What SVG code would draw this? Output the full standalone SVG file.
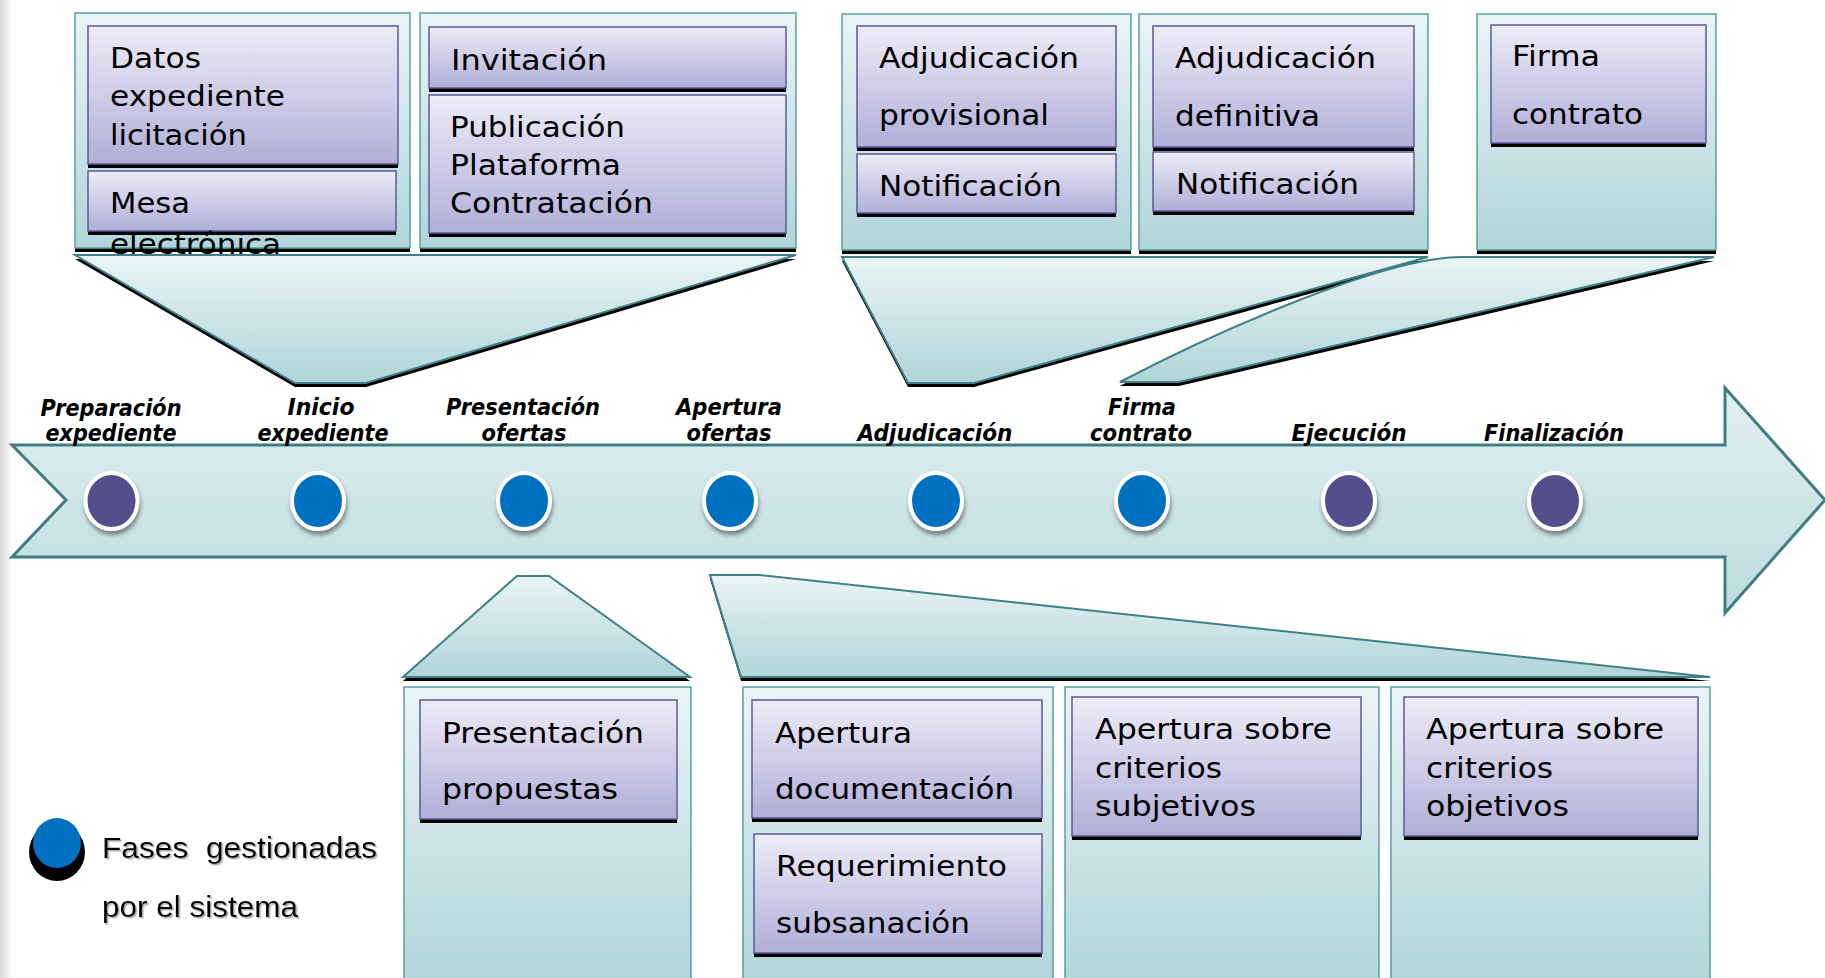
<svg xmlns="http://www.w3.org/2000/svg" width="1825" height="978" viewBox="0 0 1825 978">
<defs>
<linearGradient id="gPanel" x1="0" y1="0" x2="0" y2="1"><stop offset="0" stop-color="#EAF4F6"/><stop offset="1" stop-color="#B0D5D9"/></linearGradient>
<linearGradient id="gBand" x1="0" y1="0" x2="0" y2="1"><stop offset="0" stop-color="#E2F0F2"/><stop offset="1" stop-color="#BDDCDF"/></linearGradient>
<linearGradient id="gBox" x1="0" y1="0" x2="0" y2="1"><stop offset="0" stop-color="#EDECF7"/><stop offset="1" stop-color="#B1AED8"/></linearGradient>
<linearGradient id="gEdge" x1="0" y1="0" x2="1" y2="0"><stop offset="0" stop-color="#D6D6D6"/><stop offset="1" stop-color="#FFFFFF"/></linearGradient>
<filter id="dot" x="-50%" y="-50%" width="200%" height="200%"><feDropShadow dx="1" dy="4" stdDeviation="2" flood-color="#333" flood-opacity="0.55"/></filter>
<filter id="tsh" x="-5%" y="-20%" width="110%" height="140%"><feDropShadow dx="1.5" dy="1.5" stdDeviation="0.6" flood-color="#999" flood-opacity="0.8"/></filter>
<style>
.panel{fill:url(#gPanel);stroke:#5A9EA2;stroke-width:1.5}
.fun{fill:url(#gPanel);stroke:#3F8186;stroke-width:2}
.box{fill:url(#gBox);stroke:#5C5A98;stroke-width:1.5}
.sh{fill:#000}
.t{font-family:"DejaVu Sans",Verdana,sans-serif;font-size:28px;fill:#000}
.lbl{font-family:"DejaVu Sans",Verdana,sans-serif;font-size:23px;font-weight:bold;font-style:italic;fill:#000;text-anchor:middle}
.leg{font-family:"Liberation Sans",Arial,sans-serif;font-size:30px;fill:#000}
.dotB{fill:#0070C0;stroke:#fff;stroke-width:4}
.dotP{fill:#524F8A;stroke:#fff;stroke-width:4}
</style>
</defs>
<rect x="0" y="0" width="1825" height="978" fill="#fff"/>
<rect x="0" y="0" width="12" height="978" fill="url(#gEdge)"/>

<g id="band">
<polygon points="12,445 1725,445 1725,388 1825,500 1725,613 1725,557 12,557 66,500" fill="url(#gBand)" stroke="#3F7D82" stroke-width="3" stroke-linejoin="miter"/>
</g>

<g id="phases">
<ellipse class="dotP" cx="111.5" cy="501" rx="26" ry="28" filter="url(#dot)"/>
<ellipse class="dotB" cx="318" cy="501" rx="26" ry="28" filter="url(#dot)"/>
<ellipse class="dotB" cx="524" cy="501" rx="26" ry="28" filter="url(#dot)"/>
<ellipse class="dotB" cx="730" cy="501" rx="26" ry="28" filter="url(#dot)"/>
<ellipse class="dotB" cx="936" cy="501" rx="26" ry="28" filter="url(#dot)"/>
<ellipse class="dotB" cx="1142" cy="501" rx="26" ry="28" filter="url(#dot)"/>
<ellipse class="dotP" cx="1349" cy="501" rx="26" ry="28" filter="url(#dot)"/>
<ellipse class="dotP" cx="1555" cy="501" rx="26" ry="28" filter="url(#dot)"/>
<text class="lbl" x="111" y="416" textLength="141" lengthAdjust="spacingAndGlyphs">Preparación</text>
<text class="lbl" x="111" y="441" textLength="131" lengthAdjust="spacingAndGlyphs">expediente</text>
<text class="lbl" x="321" y="415" textLength="67" lengthAdjust="spacingAndGlyphs">Inicio</text>
<text class="lbl" x="323" y="441" textLength="131" lengthAdjust="spacingAndGlyphs">expediente</text>
<text class="lbl" x="523" y="415" textLength="154" lengthAdjust="spacingAndGlyphs">Presentación</text>
<text class="lbl" x="524" y="441" textLength="85" lengthAdjust="spacingAndGlyphs">ofertas</text>
<text class="lbl" x="729" y="415" textLength="106" lengthAdjust="spacingAndGlyphs">Apertura</text>
<text class="lbl" x="729" y="441" textLength="85" lengthAdjust="spacingAndGlyphs">ofertas</text>
<text class="lbl" x="935" y="441" textLength="155" lengthAdjust="spacingAndGlyphs">Adjudicación</text>
<text class="lbl" x="1142" y="415" textLength="68" lengthAdjust="spacingAndGlyphs">Firma</text>
<text class="lbl" x="1141" y="441" textLength="102" lengthAdjust="spacingAndGlyphs">contrato</text>
<text class="lbl" x="1349" y="441" textLength="115" lengthAdjust="spacingAndGlyphs">Ejecución</text>
<text class="lbl" x="1554" y="441" textLength="140" lengthAdjust="spacingAndGlyphs">Finalización</text>
</g>

<g id="connectors">
<polygon class="sh" points="75,259 796,259 366,387 295,387"/>
<polygon class="fun" points="75,255 796,255 366,383 295,383"/>
<polygon class="sh" points="842,261 1428,261 974,387 908,387"/>
<polygon class="fun" points="842,257 1428,257 974,383 908,383"/>
<path class="sh" d="M1120,386 C1200,344 1380,261 1461,261 L1714,261 L1179,386 Z"/>
<path class="fun" d="M1120,382 C1200,340 1380,257 1461,257 L1714,257 L1179,382 Z"/>
<polygon class="sh" points="403,681 517,580 549,580 690,681"/>
<polygon class="fun" points="403,677 517,576 549,576 690,677"/>
<polygon class="sh" points="710,579 760,579 1710,681 741,681"/>
<polygon class="fun" points="710,575 760,575 1710,677 741,677"/>
</g>

<g id="panel-inicio">
<rect class="sh" x="75" y="17" width="335" height="235"/>
<rect class="panel" x="75" y="13" width="335" height="235"/>
<rect class="sh" x="88" y="30" width="310" height="138"/>
<rect class="box" x="88" y="26" width="310" height="138"/>
<rect class="sh" x="88" y="175" width="308" height="60"/>
<rect class="box" x="88" y="171" width="308" height="60"/>
<text class="t" x="110" y="68" textLength="91" lengthAdjust="spacingAndGlyphs">Datos</text>
<text class="t" x="110" y="106" textLength="175" lengthAdjust="spacingAndGlyphs">expediente</text>
<text class="t" x="110" y="145" textLength="137" lengthAdjust="spacingAndGlyphs">licitación</text>
<text class="t" x="110" y="213" textLength="80" lengthAdjust="spacingAndGlyphs">Mesa</text>
<text class="t" x="110" y="254" textLength="171" lengthAdjust="spacingAndGlyphs">electrónica</text>
</g>

<g id="panel-invitacion">
<rect class="sh" x="420" y="17" width="376" height="235"/>
<rect class="panel" x="420" y="13" width="376" height="235"/>
<rect class="sh" x="429" y="31" width="357" height="61"/>
<rect class="box" x="429" y="27" width="357" height="61"/>
<rect class="sh" x="429" y="99" width="357" height="138"/>
<rect class="box" x="429" y="95" width="357" height="138"/>
<text class="t" x="451" y="70" textLength="156" lengthAdjust="spacingAndGlyphs">Invitación</text>
<text class="t" x="450" y="137" textLength="175" lengthAdjust="spacingAndGlyphs">Publicación</text>
<text class="t" x="450" y="175" textLength="171" lengthAdjust="spacingAndGlyphs">Plataforma</text>
<text class="t" x="450" y="213" textLength="203" lengthAdjust="spacingAndGlyphs">Contratación</text>
</g>

<g id="panel-adj-provisional">
<rect class="sh" x="842" y="18" width="289" height="236"/>
<rect class="panel" x="842" y="14" width="289" height="236"/>
<rect class="sh" x="857" y="30" width="259" height="121"/>
<rect class="box" x="857" y="26" width="259" height="121"/>
<rect class="sh" x="857" y="158" width="259" height="59"/>
<rect class="box" x="857" y="154" width="259" height="59"/>
<text class="t" x="879" y="68" textLength="200" lengthAdjust="spacingAndGlyphs">Adjudicación</text>
<text class="t" x="879" y="125" textLength="170" lengthAdjust="spacingAndGlyphs">provisional</text>
<text class="t" x="879" y="196" textLength="183" lengthAdjust="spacingAndGlyphs">Notificación</text>
</g>

<g id="panel-adj-definitiva">
<rect class="sh" x="1139" y="18" width="289" height="236"/>
<rect class="panel" x="1139" y="14" width="289" height="236"/>
<rect class="sh" x="1153" y="30" width="261" height="121"/>
<rect class="box" x="1153" y="26" width="261" height="121"/>
<rect class="sh" x="1153" y="156" width="261" height="59"/>
<rect class="box" x="1153" y="152" width="261" height="59"/>
<text class="t" x="1175" y="68" textLength="201" lengthAdjust="spacingAndGlyphs">Adjudicación</text>
<text class="t" x="1175" y="126" textLength="145" lengthAdjust="spacingAndGlyphs">definitiva</text>
<text class="t" x="1176" y="194" textLength="183" lengthAdjust="spacingAndGlyphs">Notificación</text>
</g>

<g id="panel-firma">
<rect class="sh" x="1477" y="18" width="239" height="236"/>
<rect class="panel" x="1477" y="14" width="239" height="236"/>
<rect class="sh" x="1491" y="29" width="215" height="118"/>
<rect class="box" x="1491" y="25" width="215" height="118"/>
<text class="t" x="1512" y="66" textLength="88" lengthAdjust="spacingAndGlyphs">Firma</text>
<text class="t" x="1512" y="124" textLength="131" lengthAdjust="spacingAndGlyphs">contrato</text>
</g>

<g id="panel-presentacion">
<rect class="panel" x="404" y="687" width="287" height="300"/>
<rect class="sh" x="420" y="704" width="257" height="119"/>
<rect class="box" x="420" y="700" width="257" height="119"/>
<text class="t" x="442" y="743" textLength="202" lengthAdjust="spacingAndGlyphs">Presentación</text>
<text class="t" x="442" y="799" textLength="176" lengthAdjust="spacingAndGlyphs">propuestas</text>
</g>

<g id="panel-apertura-doc">
<rect class="panel" x="743" y="687" width="310" height="300"/>
<rect class="sh" x="752" y="704" width="290" height="118"/>
<rect class="box" x="752" y="700" width="290" height="118"/>
<rect class="sh" x="754" y="838" width="288" height="119"/>
<rect class="box" x="754" y="834" width="288" height="119"/>
<text class="t" x="775" y="743" textLength="137" lengthAdjust="spacingAndGlyphs">Apertura</text>
<text class="t" x="775" y="799" textLength="239" lengthAdjust="spacingAndGlyphs">documentación</text>
<text class="t" x="776" y="876" textLength="231" lengthAdjust="spacingAndGlyphs">Requerimiento</text>
<text class="t" x="776" y="933" textLength="194" lengthAdjust="spacingAndGlyphs">subsanación</text>
</g>

<g id="panel-subjetivos">
<rect class="panel" x="1065" y="687" width="314" height="300"/>
<rect class="sh" x="1072" y="701" width="289" height="139"/>
<rect class="box" x="1072" y="697" width="289" height="139"/>
<text class="t" x="1095" y="739" textLength="237" lengthAdjust="spacingAndGlyphs">Apertura sobre</text>
<text class="t" x="1095" y="778" textLength="127" lengthAdjust="spacingAndGlyphs">criterios</text>
<text class="t" x="1095" y="816" textLength="161" lengthAdjust="spacingAndGlyphs">subjetivos</text>
</g>

<g id="panel-objetivos">
<rect class="panel" x="1391" y="687" width="319" height="300"/>
<rect class="sh" x="1404" y="701" width="294" height="139"/>
<rect class="box" x="1404" y="697" width="294" height="139"/>
<text class="t" x="1426" y="739" textLength="238" lengthAdjust="spacingAndGlyphs">Apertura sobre</text>
<text class="t" x="1426" y="778" textLength="127" lengthAdjust="spacingAndGlyphs">criterios</text>
<text class="t" x="1426" y="816" textLength="143" lengthAdjust="spacingAndGlyphs">objetivos</text>
</g>

<g id="legend">
<ellipse cx="57" cy="852" rx="28" ry="29" fill="#000"/>
<ellipse cx="57" cy="843" rx="24" ry="25" fill="#0070C0"/>
<text class="leg" x="102" y="858" textLength="275" lengthAdjust="spacingAndGlyphs" filter="url(#tsh)" xml:space="preserve">Fases  gestionadas</text>
<text class="leg" x="102" y="917" textLength="196" lengthAdjust="spacingAndGlyphs" filter="url(#tsh)">por el sistema</text>
</g>
</svg>
